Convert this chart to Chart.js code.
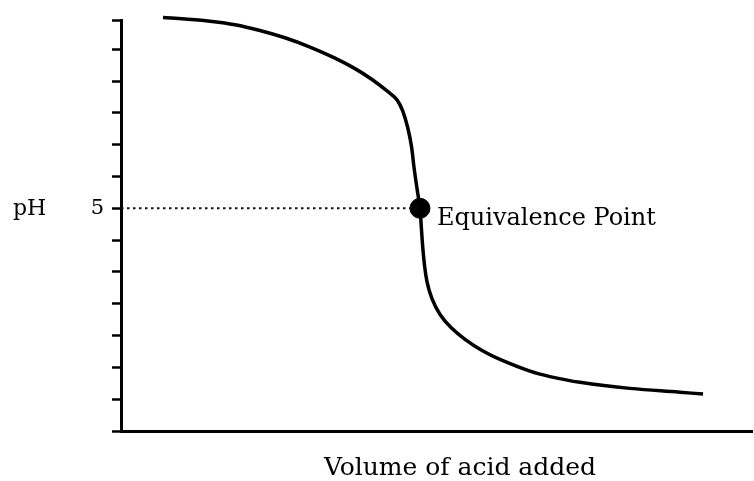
<!DOCTYPE html>
<html lang="en">
<head>
    <meta charset="UTF-8">
    <title>Titration curve</title>
    <style>
        body { margin: 0; background: #fff; overflow: hidden; }
        canvas { display: block; }
    </style>
</head>
<body>
    <div>
        <canvas id="myChart" width="754" height="481"></canvas>
    </div>

    <script src="https://cdn.jsdelivr.net/npm/chart.js"></script>

    <script>
        const ctx = document.getElementById('myChart');
        const FONT = '"DejaVu Serif", serif';

        // curve (volume, axis units)
        const volume = [3.33, 5.07, 7.05, 9.03, 11.01, 12.99, 14.98, 16.96, 18.54, 19.89, 21.08, 21.87, 22.35, 22.74, 23.02, 23.21, 23.44, 23.69, 23.79, 23.89, 24.03, 24.25, 24.64, 25.28, 26.15, 27.26, 28.61, 30.03, 32.41, 33.99, 36.37, 40.33, 44.29, 46.12];
        const level = [13.0, 12.95, 12.88, 12.77, 12.59, 12.36, 12.07, 11.72, 11.39, 11.05, 10.69, 10.41, 10.03, 9.5, 8.94, 8.31, 7.66, 7.0, 6.45, 5.88, 5.28, 4.69, 4.16, 3.66, 3.25, 2.88, 2.53, 2.25, 1.88, 1.71, 1.53, 1.34, 1.22, 1.16];

        // equivalence point
        const eqVolume = 23.69;
        const eqLevel = 7;
        const eqLabel = 'Equivalence Point';

        // y ticks: only one is labelled
        const yTickLabels = ['', '', '', '', '', '', '', '5', '', '', '', '', '', ''];
        const yTitle = 'pH';
        const xTitle = 'Volume of acid added';

        const curve = volume.map((v, i) => ({ x: v, y: level[i] }));

        // text that chart.js can't place itself
        const labelsPlugin = {
            id: 'labels',
            afterDraw(chart) {
                const c = chart.ctx;
                const xs = chart.scales.x;
                const ys = chart.scales.y;
                c.save();
                c.fillStyle = '#000';
                c.textBaseline = 'middle';

                c.font = '22px ' + FONT;
                c.textAlign = 'left';
                c.fillText(yTitle, 13, ys.getPixelForValue(eqLevel) + 1);

                c.font = '24px ' + FONT;
                c.fillText(eqLabel, xs.getPixelForValue(eqVolume) + 17, ys.getPixelForValue(eqLevel) + 10);

                c.font = '25px ' + FONT;
                c.textAlign = 'center';
                c.fillText(xTitle, 460, 468);
                c.restore();
            }
        };

        new Chart(ctx, {
            type: 'scatter',
            data: {
                datasets: [
                    {
                        data: [{ x: 0, y: eqLevel }, { x: eqVolume, y: eqLevel }],
                        showLine: true,
                        borderColor: '#111',
                        borderWidth: 2,
                        borderDash: [2.5, 3.5],
                        pointRadius: 0
                    },
                    {
                        data: curve,
                        showLine: true,
                        borderColor: '#000',
                        borderWidth: 3.5,
                        tension: 0.4,
                        pointRadius: 0,
                        clip: false
                    },
                    {
                        data: [{ x: eqVolume, y: eqLevel }],
                        backgroundColor: '#000',
                        borderColor: '#000',
                        pointRadius: 10
                    }
                ]
            },
            options: {
                responsive: false,
                animation: false,
                layout: { autoPadding: false, padding: { top: 17, right: 2, left: 0, bottom: 0 } },
                plugins: {
                    legend: { display: false },
                    tooltip: { enabled: false }
                },
                scales: {
                    x: {
                        type: 'linear',
                        min: 0,
                        max: 50,
                        ticks: { display: false },
                        grid: { display: false },
                        border: { color: '#000', width: 3 },
                        afterFit(scale) { scale.height = 50; }
                    },
                    y: {
                        min: 0,
                        max: 12.9,
                        ticks: {
                            stepSize: 1,
                            padding: 8,
                            color: '#000',
                            font: { family: FONT, size: 21 },
                            callback: (value) => yTickLabels[value] || ''
                        },
                        grid: {
                            drawOnChartArea: false,
                            drawTicks: true,
                            tickLength: 9,
                            tickWidth: 2.5,
                            tickColor: '#000'
                        },
                        border: { color: '#000', width: 3 },
                        afterFit(scale) { scale.width = 121; }
                    }
                }
            },
            plugins: [labelsPlugin]
        });
    </script>
</body>
</html>
